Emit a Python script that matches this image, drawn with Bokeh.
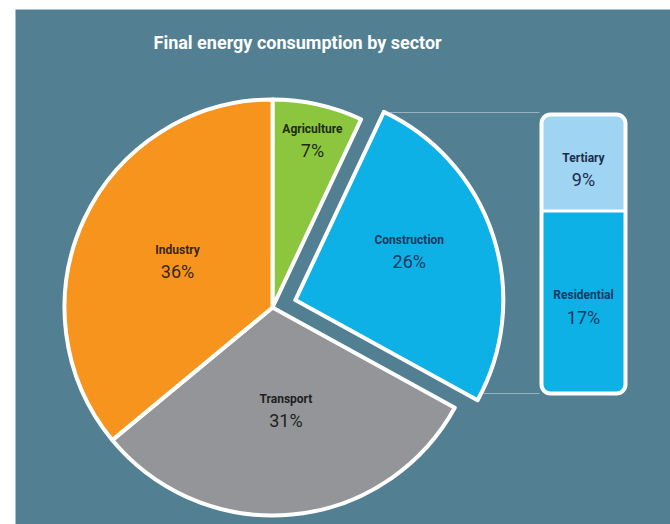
import math
from bokeh.plotting import figure
from bokeh.models import Range1d, ColumnDataSource, Label
from bokeh.core.properties import value
from bokeh.embed import file_html
from bokeh.resources import INLINE

# ---------------- data ----------------
title = "Final energy consumption by sector"
sectors = ["Agriculture", "Construction", "Transport", "Industry"]
shares = [7, 26, 31, 36]
sub_sectors = ["Tertiary", "Residential"]
sub_shares = [9, 17]

# ---------------- style ----------------
BG = "#527f92"
slice_colors = ["#8cc63f", "#0db1e6", "#939598", "#f7941d"]
slice_text = ["#1d2b12", "#173a5e", "#1f1f1f", "#3a2618"]
sub_colors = ["#9fd4f2", "#0db1e6"]
sub_text = ["#1b2d4a", "#123a63"]
explode = {"Construction": 24}
# label placement (radius px, angle tweak in degrees) per slice
label_r = [183, 129, 92, 111]
label_da = [0, 10, 3, -6]
FONT = "Roboto"

W, H = 670, 524
p = figure(width=W, height=H, x_range=Range1d(0, 655), y_range=Range1d(0, 515),
           x_axis_type=None, y_axis_type=None, output_backend="svg",
           toolbar_location=None, min_border_left=15, min_border_top=9,
           min_border_right=0, min_border_bottom=0)
p.grid.visible = False
p.outline_line_color = None
p.background_fill_color = BG
p.border_fill_color = "white"

cx, cy, R = 257, 217, 208
total = sum(shares)

starts, ends, xs, ys, mids = [], [], [], [], []
cum = 0
for name, v in zip(sectors, shares):
    a0 = 90 - cum / total * 360
    a1 = a0 - v / total * 360
    cum += v
    mid = (a0 + a1) / 2
    off = explode.get(name, 0)
    xs.append(cx + off * math.cos(math.radians(mid)))
    ys.append(cy + off * math.sin(math.radians(mid)))
    starts.append(math.radians(a0))
    ends.append(math.radians(a1))
    mids.append(mid)

src = ColumnDataSource(dict(x=xs, y=ys, start=starts, end=ends, color=slice_colors))
p.wedge(x="x", y="y", radius=R, start_angle="start", end_angle="end", direction="clock",
        fill_color="color", line_color="white", line_width=4, line_join="round", source=src)

# bar for the exploded slice breakdown
bar_left, bar_right = 526, 610
bar_bottom, bar_top = 131, 410
ci = sectors.index("Construction")
scale = (bar_top - bar_bottom) / shares[ci]
res_top = bar_bottom + sub_shares[1] * scale
p.quad(left=[bar_left], right=[bar_right], bottom=[res_top], top=[bar_top],
       fill_color=sub_colors[0], line_color=None, border_radius=(8, 8, 0, 0))
p.quad(left=[bar_left], right=[bar_right], bottom=[bar_bottom], top=[res_top],
       fill_color=sub_colors[1], line_color=None, border_radius=(0, 0, 8, 8))
p.segment(x0=[bar_left], x1=[bar_right], y0=[res_top], y1=[res_top], line_color="white", line_width=3)
p.quad(left=[bar_left], right=[bar_right], bottom=[bar_bottom], top=[bar_top],
       fill_color=None, line_color="white", line_width=4, border_radius=9)

# connector lines
ex, ey = xs[ci], ys[ci]
tx = ex + R * math.cos(starts[ci]); ty = ey + R * math.sin(starts[ci])
bx = ex + R * math.cos(ends[ci]); by = ey + R * math.sin(ends[ci])
p.segment(x0=[tx + 6, bx + 6], y0=[bar_top + 2, bar_bottom], x1=[bar_left - 2, bar_left - 2],
          y1=[bar_top + 2, bar_bottom], line_color="#a9c0cb", line_width=1, line_alpha=0.8)

# slice labels
lx, ly = [], []
for i in range(len(sectors)):
    a = math.radians(mids[i] + label_da[i])
    lx.append(xs[i] + label_r[i] * math.cos(a))
    ly.append(ys[i] + label_r[i] * math.sin(a))
pct = [f"{v}%" for v in shares]
p.text(x=lx, y=ly, text=sectors, text_color=slice_text,
       text_align="center", text_baseline="middle", text_font=value(FONT),
       text_font_size="12px", text_font_style="bold")
p.text(x=lx, y=[y - 22 for y in ly], text=pct, text_color=slice_text,
       text_align="center", text_baseline="middle", text_font=value(FONT),
       text_font_size="18px")

# bar labels
bx_c = (bar_left + bar_right) / 2
sub_mid = [(res_top + bar_top) / 2 - 6, (bar_bottom + res_top) / 2 - 4]
p.text(x=[bx_c] * 2, y=[m + 11 for m in sub_mid], text=sub_sectors, text_color=sub_text,
       text_align="center", text_baseline="middle", text_font=value(FONT),
       text_font_size="12px", text_font_style="bold")
p.text(x=[bx_c] * 2, y=[m - 11 for m in sub_mid], text=[f"{v}%" for v in sub_shares],
       text_color=sub_text, text_align="center", text_baseline="middle",
       text_font=value(FONT), text_font_size="18px")

p.add_layout(Label(x=138, y=482, text=title, text_color="white", text_font=FONT,
                   text_font_size="18px", text_font_style="bold", text_baseline="middle"))

open("out.html", "w").write(file_html(p, INLINE))
